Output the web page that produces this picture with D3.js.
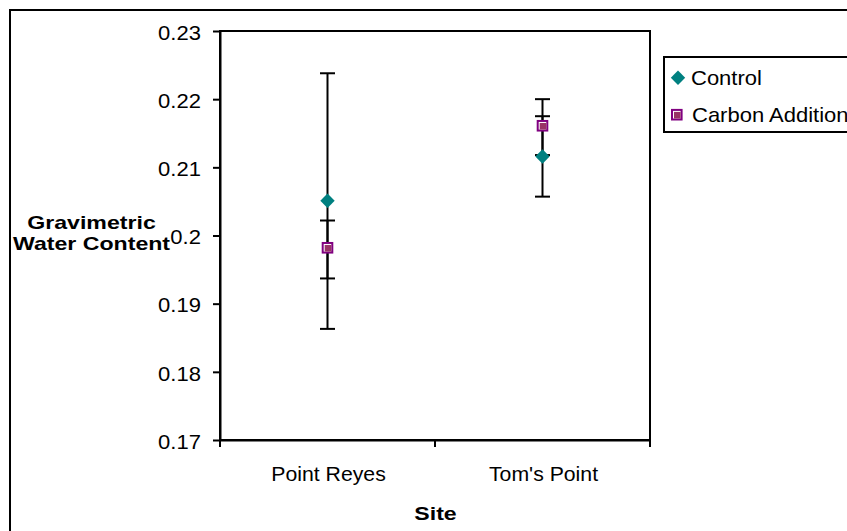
<!DOCTYPE html>
<html>
<head>
<meta charset="utf-8">
<script src="https://cdn.jsdelivr.net/npm/d3@7"></script>
<style>
  html, body { margin: 0; padding: 0; background: #fff; }
  svg { display: block; }
  text { font-family: "Liberation Sans", Arial, sans-serif; fill: #000; }
</style>
</head>
<body>
<svg id="chart" width="847" height="531"></svg>
<script>
// ---- data ----
const sites = ["Point Reyes", "Tom's Point"];
const seriesNames = ["Control", "Carbon Addition"];
const controlMean = [0.2051, 0.2116];
const controlErrPlus = [0.0187, 0.0059];
const controlErrMinus = [0.0188, 0.0059];
const carbonMean = [0.1982, 0.2161];
const carbonErrPlus = [0.0040, 0.0039];
const carbonErrMinus = [0.0045, 0.0043];
const yTickValues = [0.23, 0.22, 0.21, 0.20, 0.19, 0.18, 0.17];
const yTickLabels = ["0.23", "0.22", "0.21", "0.2", "0.19", "0.18", "0.17"];
const yTitle = ["Gravimetric", "Water Content"];
const xTitle = "Site";

// ---- layout ----
const svg = d3.select("#chart");
const plot = { left: 220, right: 650, top: 31, bottom: 440 };
const y = d3.scaleLinear().domain([0.17, 0.23]).range([plot.bottom, plot.top]);
const x = d3.scaleBand().domain(sites).range([plot.left, plot.right]).padding(0);

const colControl = "#008080";
const colCarbonEdge = "#800080";
const colCarbonFill = "#993366";

function stretchText(sel, x0, y0, k) {
  sel.attr("x", 0).attr("y", 0).attr("dy", 0)
     .attr("transform", `translate(${x0},${y0}) scale(${k},1)`);
}

// outer chart border
svg.append("rect").attr("x", 10).attr("y", 10).attr("width", 900).attr("height", 600)
  .attr("fill", "none").attr("stroke", "#000").attr("stroke-width", 2);

// plot area box
svg.append("rect").attr("x", plot.left).attr("y", plot.top)
  .attr("width", plot.right - plot.left).attr("height", plot.bottom - plot.top)
  .attr("fill", "none").attr("stroke", "#000").attr("stroke-width", 2);

// y axis
const yAxis = svg.append("g").attr("transform", `translate(${plot.left},0)`)
  .call(d3.axisLeft(y).tickValues(yTickValues).tickSize(7).tickSizeOuter(0)
        .tickFormat((d, i) => yTickLabels[i]));
yAxis.select(".domain").attr("stroke-width", 2);
yAxis.selectAll(".tick line").attr("stroke-width", 2);
yAxis.selectAll(".tick text").each(function () {
  d3.select(this).attr("font-size", "19.5px").attr("text-anchor", "end");
  stretchText(d3.select(this), -19, 8.3, 1.13);
});

// x axis (labels centered, ticks at category boundaries)
const xAxis = svg.append("g").attr("transform", `translate(0,${plot.bottom})`)
  .call(d3.axisBottom(x).tickSize(0).tickSizeOuter(0));
xAxis.select(".domain").attr("stroke-width", 2);
xAxis.selectAll(".tick text").each(function () {
  d3.select(this).attr("font-size", "19.5px").attr("text-anchor", "middle");
  stretchText(d3.select(this), 1, 40.7, 1.09);
});
const boundaries = [x.range()[0]].concat(sites.map(s => x(s) + x.bandwidth()));
xAxis.selectAll(".bnd").data(boundaries).join("line").attr("class", "bnd")
  .attr("x1", d => d).attr("x2", d => d).attr("y1", 0).attr("y2", 7)
  .attr("stroke", "#000").attr("stroke-width", 2);

// axis titles
yTitle.forEach((t, i) => {
  const el = svg.append("text").text(t).attr("font-size", "18.5px")
    .attr("font-weight", "bold").attr("text-anchor", "middle");
  stretchText(el, 91.5, i === 0 ? 229.3 : 250, 1.25);
});
const xt = svg.append("text").text(xTitle).attr("font-size", "18.5px")
  .attr("font-weight", "bold").attr("text-anchor", "middle");
stretchText(xt, 435.5, 520, 1.25);

// series
const series = [
  { name: seriesNames[0], mean: controlMean, plus: controlErrPlus, minus: controlErrMinus, type: "diamond" },
  { name: seriesNames[1], mean: carbonMean, plus: carbonErrPlus, minus: carbonErrMinus, type: "square" }
];
const cx = s => x(s) + x.bandwidth() / 2;
const capHalf = 7.5;

// error bars
series.forEach(se => {
  const g = svg.append("g");
  sites.forEach((s, i) => {
    const hi = y(se.mean[i] + se.plus[i]);
    const lo = y(se.mean[i] - se.minus[i]);
    const xc = cx(s);
    g.append("line").attr("x1", xc).attr("x2", xc).attr("y1", hi).attr("y2", lo)
      .attr("stroke", "#000").attr("stroke-width", 2);
    [hi, lo].forEach(yy => g.append("line").attr("x1", xc - capHalf).attr("x2", xc + capHalf)
      .attr("y1", yy).attr("y2", yy).attr("stroke", "#000").attr("stroke-width", 2));
  });
});

function drawMarker(g, type, xc, yc) {
  if (type === "diamond") {
    const r = 7.2;
    g.append("path").attr("d", `M${xc},${yc - r}L${xc + r},${yc}L${xc},${yc + r}L${xc - r},${yc}Z`)
      .attr("fill", colControl);
  } else {
    const h = 5.8;
    g.append("rect").attr("x", xc - h).attr("y", yc - h).attr("width", 2 * h).attr("height", 2 * h)
      .attr("fill", colCarbonEdge);
    g.append("rect").attr("x", xc - h + 2).attr("y", yc - h + 2).attr("width", 2 * h - 4).attr("height", 2 * h - 4)
      .attr("fill", "#fff");
    g.append("rect").attr("x", xc - h + 3).attr("y", yc - h + 3).attr("width", 2 * h - 5).attr("height", 2 * h - 5)
      .attr("fill", colCarbonFill);
  }
}

// markers
series.forEach(se => {
  const g = svg.append("g");
  sites.forEach((s, i) => drawMarker(g, se.type, cx(s), y(se.mean[i])));
});

// legend
const lg = svg.append("g");
lg.append("rect").attr("x", 664).attr("y", 57).attr("width", 300).attr("height", 75)
  .attr("fill", "#fff").attr("stroke", "#000").attr("stroke-width", 2);
const legendRows = [
  { mx: 678, my: 77.8, tx: 691, ty: 85 },
  { mx: 676.8, my: 114.7, tx: 692, ty: 121.7 }
];
series.forEach((se, i) => {
  const r = legendRows[i];
  drawMarker(lg, se.type, r.mx, r.my);
  const t = lg.append("text").text(se.name).attr("font-size", "20px");
  stretchText(t, r.tx, r.ty, 1.1);
});
</script>
</body>
</html>
